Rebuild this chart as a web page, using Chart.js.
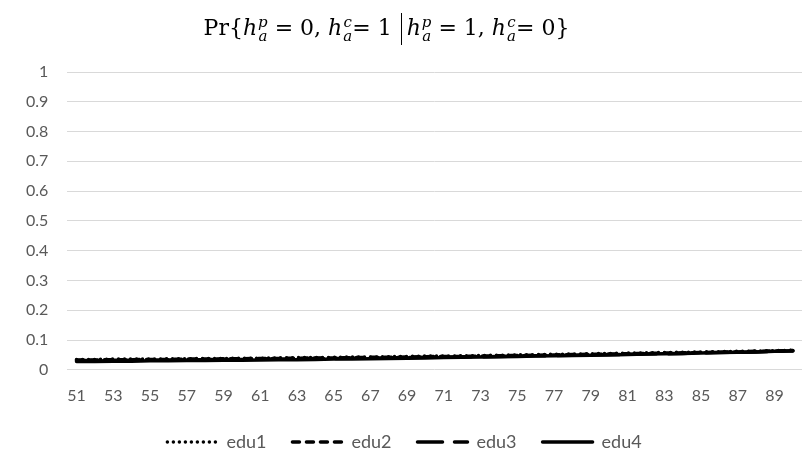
<!DOCTYPE html>
<html>
<head>
<meta charset="utf-8">
<script src="https://cdn.jsdelivr.net/npm/chart.js@4/dist/chart.umd.min.js"></script>
<style>
  html, body { margin: 0; padding: 0; background: #fff; }
  #wrap { position: relative; width: 807px; height: 471px; }
  #title {
    position: absolute; left: -17px; top: 13px; width: 807px; text-align: center;
    font-family: "DejaVu Serif", "Liberation Serif", serif; font-size: 22px; color: #000;
    white-space: nowrap;
  }
  #title i { font-style: italic; }
  .ss { display: inline-flex; flex-direction: column; vertical-align: middle; font-size: 15px; line-height: 14px; font-style: italic; margin-left: 1px; }
  .bar { display: inline-block; border-left: 1.5px solid #000; height: 32px; vertical-align: middle; margin: 0 5px 0 2px; }
</style>
</head>
<body>
<div id="wrap">
  <div id="title">Pr{<i>h</i><span class="ss"><span>p</span><span>a</span></span> = 0, <i>h</i><span class="ss"><span>c</span><span>a</span></span>= 1 <span class="bar"></span><i>h</i><span class="ss"><span>p</span><span>a</span></span> = 1, <i>h</i><span class="ss"><span>c</span><span>a</span></span>= 0}</div>
  <canvas id="chart" width="807" height="471"></canvas>
</div>
<script>
/* ── data ────────────────────────────────────────────────────────────── */
const ages = ['51','52','53','54','55','56','57','58','59','60','61','62','63','64','65','66','67','68','69','70',
              '71','72','73','74','75','76','77','78','79','80','81','82','83','84','85','86','87','88','89','90'];

const edu1 = [0.035,0.035,0.036,0.036,0.036,0.037,0.037,0.038,0.038,0.039,
              0.039,0.040,0.041,0.041,0.042,0.043,0.043,0.044,0.045,0.046,
              0.046,0.047,0.048,0.049,0.050,0.051,0.052,0.053,0.054,0.055,
              0.056,0.057,0.058,0.059,0.060,0.061,0.062,0.063,0.064,0.066];
const edu2 = [0.033,0.033,0.034,0.034,0.035,0.035,0.036,0.036,0.037,0.037,
              0.038,0.038,0.039,0.040,0.040,0.041,0.042,0.042,0.043,0.044,
              0.045,0.045,0.046,0.047,0.048,0.049,0.050,0.051,0.052,0.053,
              0.054,0.055,0.056,0.057,0.058,0.059,0.060,0.062,0.063,0.065];
const edu3 = [0.031,0.031,0.032,0.032,0.033,0.033,0.034,0.034,0.035,0.035,
              0.036,0.036,0.037,0.038,0.038,0.039,0.040,0.040,0.041,0.042,
              0.043,0.044,0.044,0.045,0.046,0.047,0.048,0.049,0.050,0.051,
              0.052,0.053,0.054,0.055,0.057,0.058,0.059,0.060,0.062,0.064];
const edu4 = [0.028,0.028,0.029,0.029,0.030,0.030,0.031,0.031,0.032,0.032,
              0.033,0.034,0.034,0.035,0.036,0.036,0.037,0.038,0.039,0.040,
              0.041,0.042,0.043,0.044,0.045,0.046,0.047,0.048,0.049,0.050,
              0.051,0.053,0.054,0.055,0.056,0.058,0.059,0.060,0.062,0.063];

const seriesNames = ['edu1', 'edu2', 'edu3', 'edu4'];
const DASHES = [[0, 6], [7, 7], [25, 12], []];

const TEXT = '#595959';
const FONT = 'Lato, "Open Sans", sans-serif';

const ds = (label, data, dash) => ({
  label,
  data,
  borderColor: '#000',
  backgroundColor: '#000',
  borderWidth: 3.5,
  borderDash: dash,
  borderCapStyle: 'round',
  pointRadius: 0,
  pointHoverRadius: 0,
  tension: 0,
  fill: false,
});

new Chart(document.getElementById('chart').getContext('2d'), {
  type: 'line',
  data: {
    labels: ages,
    datasets: [edu1, edu2, edu3, edu4].map((d, i) => ds(seriesNames[i], d, DASHES[i])),
  },
  options: {
    responsive: false,
    animation: false,
    layout: { padding: { top: 72, right: 5, left: 7, bottom: 10 } },
    plugins: {
      title: { display: false },
      tooltip: { enabled: false },
      legend: {
        position: 'bottom',
        labels: {
          usePointStyle: true,
          pointStyle: 'line',
          pointStyleWidth: 50,
          boxHeight: 18,
          padding: 26,
          color: TEXT,
          font: { family: FONT, size: 18 },
          generateLabels: chart => Chart.defaults.plugins.legend.labels.generateLabels(chart).map(it => ({
            ...it,
            lineDash: DASHES[it.datasetIndex],
            lineCap: 'round',
          })),
        },
      },
    },
    scales: {
      x: {
        offset: true,
        grid: { display: false },
        border: { display: false },
        afterFit: s => { s.height -= 6; },
        ticks: {
          autoSkip: false,
          maxRotation: 0,
          padding: 8,
          color: TEXT,
          font: { family: FONT, size: 16 },
          callback: (v, i) => (i % 2 === 0 ? ages[i] : ''),
        },
      },
      y: {
        min: 0,
        max: 1,
        grid: { color: '#d9d9d9', lineWidth: 1, drawTicks: false },
        border: { display: false },
        ticks: {
          stepSize: 0.1,
          padding: 19,
          color: TEXT,
          font: { family: FONT, size: 16 },
          callback: v => String(Math.round(v * 10) / 10),
        },
      },
    },
  },
});
</script>
</body>
</html>
